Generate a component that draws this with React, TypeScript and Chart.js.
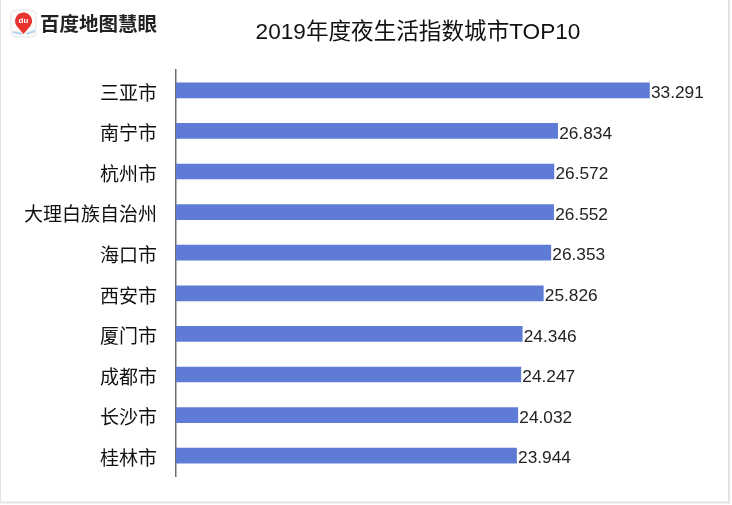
import React, { useEffect, useRef } from "react";
import { Chart, registerables } from "chart.js";

Chart.register(...registerables);

const cities = ["三亚市", "南宁市", "杭州市", "大理白族自治州", "海口市", "西安市", "厦门市", "成都市", "长沙市", "桂林市"];
const values = [33.291, 26.834, 26.572, 26.552, 26.353, 25.826, 24.346, 24.247, 24.032, 23.944];
const valueLabels = ["33.291", "26.834", "26.572", "26.552", "26.353", "25.826", "24.346", "24.247", "24.032", "23.944"];
const title = "2019年度夜生活指数城市TOP10";
const brand = "百度地图慧眼";

const BAR_COLOR = "rgb(94,124,214)";
const FONT_MIX = "'Liberation Sans', 'Noto Sans CJK SC', sans-serif";
const FONT_CJK = "'Noto Sans CJK SC', sans-serif";

const decorPlugin = {
  id: "decor",
  beforeDraw(chart: any) {
    const ctx = chart.ctx as CanvasRenderingContext2D;
    ctx.save();
    ctx.fillStyle = "#ffffff";
    ctx.fillRect(0, 0, chart.width, chart.height);
    // frame
    ctx.strokeStyle = "#e3e3e3";
    ctx.lineWidth = 1;
    ctx.beginPath();
    ctx.moveTo(0.5, 0);
    ctx.lineTo(0.5, 503);
    ctx.stroke();
    ctx.lineWidth = 2;
    ctx.beginPath();
    ctx.moveTo(729, 0);
    ctx.lineTo(729, 503);
    ctx.moveTo(0, 502.5);
    ctx.lineTo(730, 502.5);
    ctx.stroke();

    // logo icon
    const x0 = 11, y0 = 10, w = 25, h = 27, r = 5;
    ctx.beginPath();
    ctx.moveTo(x0 + r, y0);
    ctx.arcTo(x0 + w, y0, x0 + w, y0 + h, r);
    ctx.arcTo(x0 + w, y0 + h, x0, y0 + h, r);
    ctx.arcTo(x0, y0 + h, x0, y0, r);
    ctx.arcTo(x0, y0, x0 + w, y0, r);
    ctx.closePath();
    ctx.fillStyle = "#fbfbfb";
    ctx.fill();
    ctx.strokeStyle = "#e4e4e4";
    ctx.lineWidth = 1;
    ctx.stroke();
    // map strokes
    ctx.strokeStyle = "#b9d3ec";
    ctx.lineWidth = 2;
    ctx.beginPath();
    ctx.moveTo(13, 32);
    ctx.lineTo(22, 34);
    ctx.moveTo(26, 34);
    ctx.lineTo(35, 31);
    ctx.stroke();
    // pin
    const cx = 23.5, cy = 21, pr = 8.5;
    ctx.fillStyle = "#e8322d";
    ctx.beginPath();
    ctx.arc(cx, cy, pr, Math.PI * 0.8, Math.PI * 2.2);
    ctx.lineTo(cx, cy + 13);
    ctx.closePath();
    ctx.fill();
    ctx.fillStyle = "#ffffff";
    ctx.font = "bold 8px 'Liberation Sans', sans-serif";
    ctx.textAlign = "center";
    ctx.textBaseline = "middle";
    ctx.fillText("du", cx, cy);
    // brand text
    ctx.fillStyle = "#222222";
    ctx.font = "bold 19.5px " + FONT_CJK;
    ctx.textAlign = "left";
    ctx.textBaseline = "middle";
    ctx.fillText(brand, 40, 24);

    // title
    ctx.fillStyle = "#111111";
    ctx.font = "22.6px " + FONT_MIX;
    ctx.textAlign = "center";
    ctx.textBaseline = "middle";
    ctx.fillText(title, 418, 33);
    ctx.restore();
  },
  afterDatasetsDraw(chart: any) {
    const ctx = chart.ctx as CanvasRenderingContext2D;
    const meta = chart.getDatasetMeta(0);
    ctx.save();
    ctx.fillStyle = "#222222";
    ctx.font = "17.3px 'Liberation Sans', sans-serif";
    ctx.textAlign = "left";
    ctx.textBaseline = "middle";
    meta.data.forEach((bar: any, i: number) => {
      ctx.fillText(valueLabels[i], bar.x + 1.5, bar.y + 3);
    });
    ctx.restore();
  },
};

export default function App() {
  const ref = useRef<HTMLCanvasElement | null>(null);
  useEffect(() => {
    if (!ref.current) return;
    const chart = new Chart(ref.current, {
      type: "bar",
      data: {
        labels: cities,
        datasets: [
          {
            data: values,
            backgroundColor: BAR_COLOR,
            borderWidth: 0,
            barThickness: 15,
          },
        ],
      },
      options: {
        indexAxis: "y",
        animation: false,
        responsive: false,
        maintainAspectRatio: false,
        layout: { padding: { left: 0, top: 70, right: 44, bottom: 29 } },
        plugins: {
          legend: { display: false },
          tooltip: { enabled: false },
          title: { display: false },
        },
        scales: {
          x: {
            display: false,
            min: 0,
            max: 36,
          },
          y: {
            grid: { display: false },
            border: { display: true, color: "#707070", width: 1.5 },
            ticks: {
              color: "#111111",
              font: { family: FONT_CJK, size: 19 },
              padding: 11,
              labelOffset: 2,
            },
            afterFit(scale: any) {
              scale.width = 176;
            },
          },
        },
      },
      plugins: [decorPlugin],
    });
    return () => chart.destroy();
  }, []);
  return (
    <div style={{ position: "fixed", left: 0, top: 0, width: 732, height: 505, background: "#fff" }}>
      <canvas ref={ref} width={732} height={505} style={{ width: 732, height: 505, display: "block" }} />
    </div>
  );
}
